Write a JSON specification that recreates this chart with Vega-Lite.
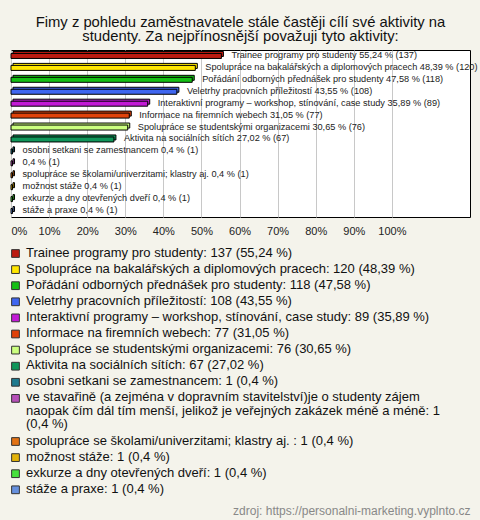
{
  "$schema": "https://vega.github.io/schema/vega-lite/v6.json",
  "width": 459,
  "height": 167,
  "autosize": {"type": "none"},
  "padding": {"left": 11, "top": 50, "right": 10, "bottom": 303},
  "background": "#F4F3EB",
  "config": {
    "view": {"fill": "white", "stroke": "#000", "strokeWidth": 1},
    "font": "Liberation Sans"
  },
  "title": {
    "text": ["Fimy z pohledu zaměstnavatele stále častěji cílí své aktivity na", "studenty. Za nejpřínosnější považuji tyto aktivity:"],
    "font": "Liberation Sans",
    "fontSize": 14.8,
    "fontWeight": "normal",
    "color": "#111",
    "lineHeight": 14.5,
    "anchor": "middle",
    "offset": 6
  },
  "data": {
    "values": [
      {"order": 1, "pct": 55.24, "label": "Trainee programy pro studenty 55,24 % (137)", "legend": "Trainee programy pro studenty: 137 (55,24 %)"},
      {"order": 2, "pct": 48.39, "label": "Spolupráce na bakalářských a diplomových pracech 48,39 % (120)", "legend": "Spolupráce na bakalářských a diplomových pracech: 120 (48,39 %)"},
      {"order": 3, "pct": 47.58, "label": "Pořádání odborných přednášek pro studenty 47,58 % (118)", "legend": "Pořádání odborných přednášek pro studenty: 118 (47,58 %)"},
      {"order": 4, "pct": 43.55, "label": "Veletrhy pracovních příležitostí 43,55 % (108)", "legend": "Veletrhy pracovních příležitostí: 108 (43,55 %)"},
      {"order": 5, "pct": 35.89, "label": "Interaktivní programy – workshop, stínování, case study 35,89 % (89)", "legend": "Interaktivní programy – workshop, stínování, case study: 89 (35,89 %)"},
      {"order": 6, "pct": 31.05, "label": "Informace na firemních webech 31,05 % (77)", "legend": "Informace na firemních webech: 77 (31,05 %)"},
      {"order": 7, "pct": 30.65, "label": "Spolupráce se studentskými organizacemi 30,65 % (76)", "legend": "Spolupráce se studentskými organizacemi: 76 (30,65 %)"},
      {"order": 8, "pct": 27.02, "label": "Aktivita na sociálních sítích 27,02 % (67)", "legend": "Aktivita na sociálních sítích: 67 (27,02 %)"},
      {"order": 9, "pct": 0.4, "label": "osobni setkani se zamestnancem 0,4 % (1)", "legend": "osobni setkani se zamestnancem: 1 (0,4 %)"},
      {"order": 10, "pct": 0.4, "label": "0,4 % (1)", "legend": "ve stavařině (a zejména v dopravním stavitelství)je o studenty zájem\nnaopak čím dál tím menší, jelikož je veřejných zakázek méně a méně: 1\n(0,4 %)"},
      {"order": 11, "pct": 0.4, "label": "spolupráce se školami/univerzitami; klastry aj.   0,4 % (1)", "legend": "spolupráce se školami/univerzitami; klastry aj.  : 1 (0,4 %)"},
      {"order": 12, "pct": 0.4, "label": "možnost stáže 0,4 % (1)", "legend": "možnost stáže: 1 (0,4 %)"},
      {"order": 13, "pct": 0.4, "label": "exkurze a dny otevřených dveří 0,4 % (1)", "legend": "exkurze a dny otevřených dveří: 1 (0,4 %)"},
      {"order": 14, "pct": 0.4, "label": "stáže a praxe 0,4 % (1)", "legend": "stáže a praxe: 1 (0,4 %)"}
    ]
  },
  "encoding": {
    "y": {"field": "order", "type": "ordinal", "axis": null, "scale": {"paddingInner": 0, "paddingOuter": 0}},
    "x": {
      "field": "pct", "type": "quantitative",
      "scale": {"domain": [0, 120.5], "nice": false, "zero": true},
      "axis": {
        "values": [0, 10, 20, 30, 40, 50, 60, 70, 80, 90, 100],
        "labelExpr": "datum.value + '%'",
        "grid": true, "gridColor": "#C8C8C8", "gridWidth": 1,
        "ticks": false, "domain": false,
        "labelFont": "Liberation Sans", "labelFontSize": 11, "labelColor": "#222", "labelPadding": 8,
        "title": "zdroj: https://personalni-marketing.vyplnto.cz",
        "titleFont": "Liberation Sans", "titleFontSize": 12, "titleFontWeight": "normal", "titleColor": "#888",
        "titleAnchor": "end", "titleAlign": "right", "titleX": 459, "titleY": 297, "titleBaseline": "alphabetic"
      }
    }
  },
  "layer": [
    {
      "encoding": {
        "color": {
          "field": "legend", "type": "nominal", "sort": {"field": "order", "op": "min"},
          "scale": {"range": ["#BB1A10", "#FFE600", "#14C014", "#3F66F0", "#C21AD6", "#E0420A", "#CCFF80", "#10965A", "#1E7A8E", "#B650B8", "#E27214", "#E2B208", "#46E03C", "#6690DE"]},
          "legend": {
            "orient": "none", "legendX": -2, "legendY": 197, "title": null, "direction": "vertical",
            "padding": 0, "symbolType": "square", "symbolSize": 60, "symbolStrokeColor": "#333", "symbolStrokeWidth": 1,
            "symbolOpacity": 1,
            "labelFont": "Liberation Sans", "labelFontSize": 13, "labelColor": "#111", "labelLimit": 480,
            "labelOffset": 4, "rowPadding": 2.1, "labelBaseline": "top",
            "labelExpr": "split(datum.label, '\\n')",
            "encode": {"labels": {"update": {"dy": {"value": -7}, "lineHeight": {"value": 13.5}}}}
          }
        }
      },
      "layer": [
        {"mark": {"type": "bar", "xOffset": 2, "yOffset": -2, "height": 5, "stroke": "#000", "strokeWidth": 1, "opacity": 1}},
        {"mark": {"type": "bar", "height": 5, "stroke": "#000", "strokeWidth": 1, "opacity": 1}}
      ]
    },
    {
      "mark": {"type": "text", "align": "left", "baseline": "middle", "dx": 10, "dy": -1, "font": "Liberation Sans", "fontSize": 9.2, "color": "#222"},
      "encoding": {
        "text": {"field": "label"}
      }
    }
  ]
}
